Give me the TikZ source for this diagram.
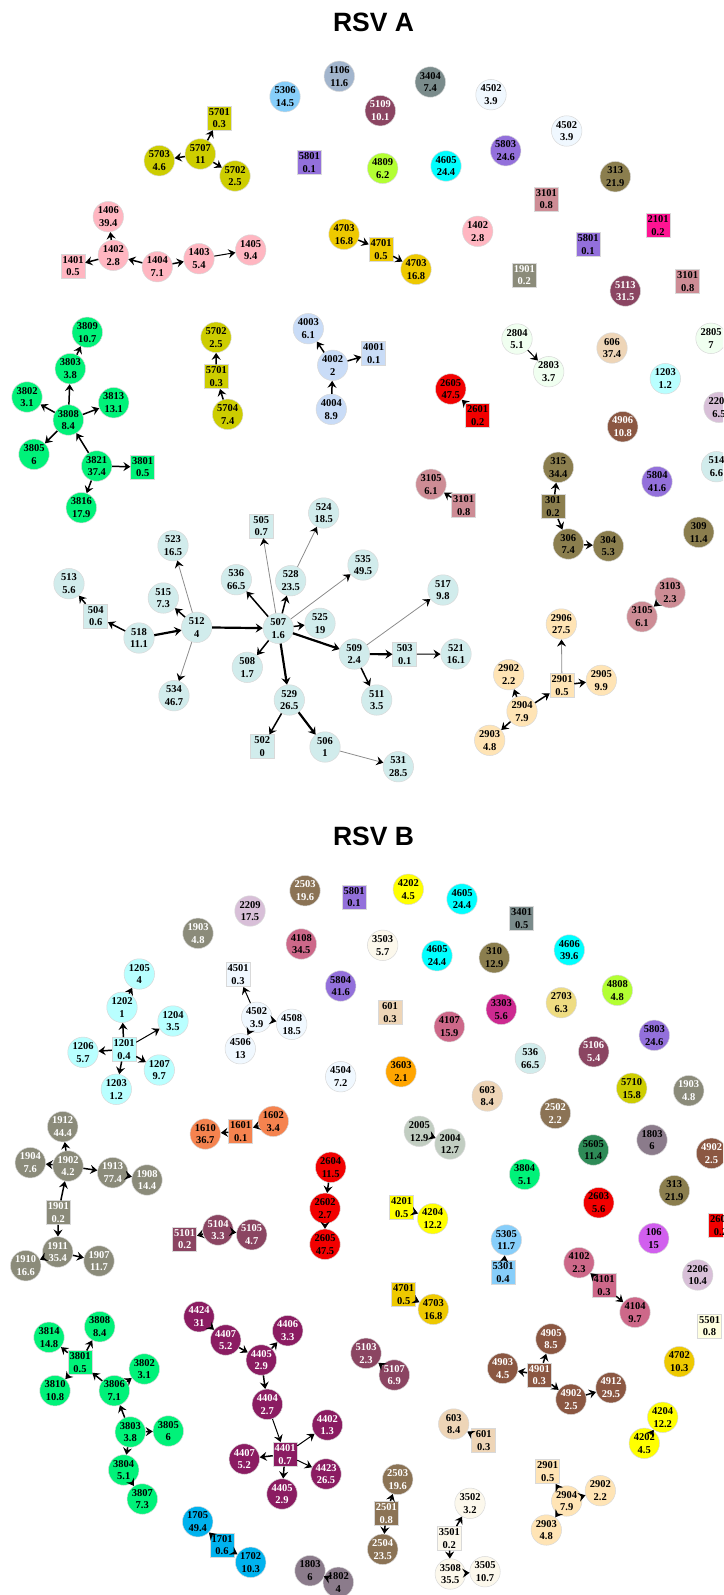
\documentclass[tikz,border=0pt]{standalone}
\usepackage{fontspec}
\setmainfont{Liberation Serif}
\newfontfamily\headfont{Liberation Sans}
\usetikzlibrary{arrows.meta}
% node fill colours
\definecolor{cTeal}{HTML}{D1ECEC}
\definecolor{cOliveY}{HTML}{CDCD00}
\definecolor{cPink}{HTML}{FFB6C1}
\definecolor{cGold}{HTML}{EEC900}
\definecolor{cSpring}{HTML}{00F279}
\definecolor{cLBlue}{HTML}{C9DCF7}
\definecolor{cHoney}{HTML}{F0FFF0}
\definecolor{cBisque}{HTML}{EED5B7}
\definecolor{cPCyan}{HTML}{B9FFFF}
\definecolor{cRed}{HTML}{F20000}
\definecolor{cSienna}{HTML}{8B5742}
\definecolor{cPurple}{HTML}{9370DB}
\definecolor{cOlive}{HTML}{8B7E4E}
\definecolor{cRosy}{HTML}{CD8C95}
\definecolor{cMocc}{HTML}{FFE4B5}
\definecolor{cMaroon}{HTML}{8B4562}
\definecolor{cSlate}{HTML}{7A8B8B}
\definecolor{cSteel}{HTML}{A2B5CD}
\definecolor{cSky}{HTML}{87CEFA}
\definecolor{cAlice}{HTML}{F0F8FF}
\definecolor{cGYel}{HTML}{B3FF33}
\definecolor{cCyan}{HTML}{00FFFF}
\definecolor{cDPink}{HTML}{FF1493}
\definecolor{cGrey}{HTML}{8B8B7A}
\definecolor{cThistle}{HTML}{D8BFD8}
\definecolor{cYellow}{HTML}{FFFF00}
\definecolor{cIvory}{HTML}{FCF8EC}
\definecolor{cBrown}{HTML}{8B7355}
\definecolor{cPVR}{HTML}{CD6889}
\definecolor{cVRed}{HTML}{CD2990}
\definecolor{cKhaki}{HTML}{EEDC82}
\definecolor{cOrange}{HTML}{FFA500}
\definecolor{cCoral}{HTML}{F5834F}
\definecolor{cHoneyG}{HTML}{C1CDC1}
\definecolor{cSea}{HTML}{2E8B57}
\definecolor{cThisD}{HTML}{8B7B8B}
\definecolor{cOrchid}{HTML}{D15FEE}
\definecolor{cLYel}{HTML}{FFFFE0}
\definecolor{cMarD}{HTML}{8B1C62}
\definecolor{cDSky}{HTML}{00B2EE}
\begin{document}
\begin{tikzpicture}[x=1pt,y=-1pt,
  nd/.style={circle,minimum size=30.5pt,inner sep=0pt,draw=black!15,line width=0.5pt,
    align=center,font=\bfseries\fontsize{10.5}{12.6}\selectfont},
  sq/.style={rectangle,minimum size=24pt,inner sep=0pt,draw=black!15,line width=0.5pt,
    align=center,font=\bfseries\fontsize{10.5}{12.6}\selectfont},
  wt/.style={text=white},
  ed/.style={draw=black,line width=1.5pt,-{Stealth[length=7pt,width=9pt,inset=2.5pt,color=black]}},
  edk/.style={ed,line width=2.2pt},
  edm/.style={ed,line width=1pt},
  edt/.style={ed,line width=0.8pt,draw=black!45},
  ttl/.style={font=\headfont\bfseries\fontsize{26.5}{30}\selectfont}
]
\useasboundingbox (0,0) rectangle (723,1595);
\clip (0,0) rectangle (723,1595);

%% ---------------- RSV A ----------------
\node[ttl] (titleA) at (373.5,22) {RSV A};

\node[nd,fill=cSky] (a5306) at (285,96.7) {5306\\14.5};
\node[nd,fill=cSteel] (a1106) at (339.3,76.3) {1106\\11.6};
\node[nd,fill=cSlate] (a3404) at (430.3,82) {3404\\7.4};
\node[nd,fill=cMaroon,wt] (a5109) at (380.3,110.7) {5109\\10.1};
\node[nd,fill=cAlice] (a4502) at (491,94.7) {4502\\3.9};
\node[nd,fill=cAlice] (a4502b) at (566.7,131) {4502\\3.9};
\node[sq,fill=cOliveY] (a5701) at (219.3,118) {5701\\0.3};
\node[nd,fill=cOliveY] (a5707) at (200.3,154) {5707\\11};
\node[nd,fill=cOliveY] (a5703) at (159.3,160.7) {5703\\4.6};
\node[nd,fill=cOliveY] (a5702) at (235,176) {5702\\2.5};
\node[sq,fill=cPurple] (a5801) at (309.3,162.7) {5801\\0.1};
\node[nd,fill=cGYel] (a4809) at (382.7,168.3) {4809\\6.2};
\node[nd,fill=cCyan] (a4605) at (446,166) {4605\\24.4};
\node[nd,fill=cPurple] (a5803) at (505.7,150.7) {5803\\24.6};
\node[nd,fill=cOlive] (a313) at (615.3,176.7) {313\\21.9};
\node[sq,fill=cRosy] (a3101) at (546.3,199) {3101\\0.8};
\node[nd,fill=cPink] (a1406) at (108.3,216.7) {1406\\39.4};
\node[nd,fill=cPink] (a1402) at (113.3,255.3) {1402\\2.8};
\node[sq,fill=cPink] (a1401) at (73,266) {1401\\0.5};
\node[nd,fill=cPink] (a1404) at (157.3,266.7) {1404\\7.1};
\node[nd,fill=cPink] (a1403) at (199,258.7) {1403\\5.4};
\node[nd,fill=cPink] (a1405) at (250.7,250) {1405\\9.4};
\node[nd,fill=cGold] (a4703) at (344,234.3) {4703\\16.8};
\node[sq,fill=cGold] (a4701) at (381,249.3) {4701\\0.5};
\node[nd,fill=cGold] (a4703b) at (416,269.3) {4703\\16.8};
\node[nd,fill=cPink] (a1402b) at (477.7,231.3) {1402\\2.8};
\node[sq,fill=cDPink] (a2101) at (658,225.3) {2101\\0.2};
\node[sq,fill=cPurple] (a5801b) at (588,244.3) {5801\\0.1};
\node[sq,fill=cGrey,wt] (a1901) at (524.3,275) {1901\\0.2};
\node[sq,fill=cRosy] (a3101b) at (687.7,281.7) {3101\\0.8};
\node[nd,fill=cMaroon,wt] (a5113) at (625.3,291) {5113\\31.5};

\node[nd,fill=cSpring] (a3809) at (87.3,332.3) {3809\\10.7};
\node[nd,fill=cSpring] (a3803) at (70.3,368.7) {3803\\3.8};
\node[nd,fill=cSpring] (a3802) at (27,397) {3802\\3.1};
\node[nd,fill=cSpring] (a3813) at (113.7,402.7) {3813\\13.1};
\node[nd,fill=cSpring] (a3808) at (68.3,420) {3808\\8.4};
\node[nd,fill=cSpring] (a3805) at (34,454.3) {3805\\6};
\node[nd,fill=cSpring] (a3821) at (96.7,466) {3821\\37.4};
\node[sq,fill=cSpring] (a3801) at (142.7,467) {3801\\0.5};
\node[nd,fill=cSpring] (a3816) at (81.3,507.7) {3816\\17.9};

\node[nd,fill=cOliveY] (a5702b) at (216,337.3) {5702\\2.5};
\node[sq,fill=cOliveY] (a5701b) at (216.3,376.7) {5701\\0.3};
\node[nd,fill=cOliveY] (a5704) at (227.7,414.3) {5704\\7.4};

\node[nd,fill=cLBlue] (a4003) at (308.3,328.7) {4003\\6.1};
\node[nd,fill=cLBlue] (a4002) at (332.7,365.3) {4002\\2};
\node[nd,fill=cLBlue] (a4004) at (331.3,409.3) {4004\\8.9};
\node[sq,fill=cLBlue] (a4001) at (373.7,353.3) {4001\\0.1};

\node[nd,fill=cHoney] (a2804) at (517,339) {2804\\5.1};
\node[nd,fill=cHoney] (a2803) at (548.7,371.7) {2803\\3.7};
\node[nd,fill=cBisque] (a606) at (612,348) {606\\37.4};
\node[nd,fill=cHoney] (a2805) at (711,338.3) {2805\\7};
\node[nd,fill=cPCyan] (a1203) at (665.3,378.7) {1203\\1.2};
\node[nd,fill=cThistle] (a2206) at (719,407.3) {2206\\6.5};
\node[nd,fill=cRed] (a2605) at (450.7,389) {2605\\47.5};
\node[sq,fill=cRed] (a2601) at (477.7,415.3) {2601\\0.2};
\node[nd,fill=cSienna,wt] (a4906) at (622.7,426.7) {4906\\10.8};
\node[nd,fill=cPurple] (a5804) at (657,481.7) {5804\\41.6};
\node[nd,fill=cTeal] (a514) at (716.5,466.7) {514\\6.6};
\node[nd,fill=cOlive] (a315) at (558.3,467.3) {315\\34.4};
\node[sq,fill=cOlive] (a301) at (553,506.7) {301\\0.2};
\node[nd,fill=cOlive] (a306) at (568.3,544) {306\\7.4};
\node[nd,fill=cOlive] (a304) at (608.3,546) {304\\5.3};
\node[nd,fill=cOlive] (a309) at (698.7,532.3) {309\\11.4};
\node[nd,fill=cRosy] (a3105) at (431,484.3) {3105\\6.1};
\node[sq,fill=cRosy] (a3101c) at (463.7,505.3) {3101\\0.8};
\node[nd,fill=cRosy] (a3103) at (670,592.7) {3103\\2.3};
\node[nd,fill=cRosy] (a3105b) at (642,616.7) {3105\\6.1};

\node[nd,fill=cTeal] (a524) at (323.7,513) {524\\18.5};
\node[sq,fill=cTeal] (a505) at (261.3,526) {505\\0.7};
\node[nd,fill=cTeal] (a523) at (173,545.7) {523\\16.5};
\node[nd,fill=cTeal] (a513) at (69,583.7) {513\\5.6};
\node[sq,fill=cTeal] (a504) at (95.7,616) {504\\0.6};
\node[nd,fill=cTeal] (a518) at (139,638) {518\\11.1};
\node[nd,fill=cTeal] (a515) at (163.3,598) {515\\7.3};
\node[nd,fill=cTeal] (a512) at (196.7,627.3) {512\\4};
\node[nd,fill=cTeal] (a534) at (174,695.7) {534\\46.7};
\node[nd,fill=cTeal] (a536) at (236.3,579.7) {536\\66.5};
\node[nd,fill=cTeal] (a528) at (290.7,580.7) {528\\23.5};
\node[nd,fill=cTeal] (a507) at (278.3,628.3) {507\\1.6};
\node[nd,fill=cTeal] (a525) at (320,623.3) {525\\19};
\node[nd,fill=cTeal] (a508) at (247.3,667.3) {508\\1.7};
\node[nd,fill=cTeal] (a509) at (354.3,654) {509\\2.4};
\node[nd,fill=cTeal] (a529) at (289.3,700) {529\\26.5};
\node[sq,fill=cTeal] (a502) at (262.3,746.7) {502\\0};
\node[nd,fill=cTeal] (a506) at (325,747) {506\\1};
\node[nd,fill=cTeal] (a535) at (363,565) {535\\49.5};
\node[nd,fill=cTeal] (a517) at (443,590) {517\\9.8};
\node[sq,fill=cTeal] (a503) at (404.7,654.3) {503\\0.1};
\node[nd,fill=cTeal] (a521) at (456,654) {521\\16.1};
\node[nd,fill=cTeal] (a511) at (376.7,700) {511\\3.5};
\node[nd,fill=cTeal] (a531) at (398.3,766.7) {531\\28.5};

\node[nd,fill=cMocc] (a2906) at (561.3,624) {2906\\27.5};
\node[nd,fill=cMocc] (a2902) at (508.7,674.7) {2902\\2.2};
\node[sq,fill=cMocc] (a2901) at (562,685.3) {2901\\0.5};
\node[nd,fill=cMocc] (a2905) at (601.3,680.3) {2905\\9.9};
\node[nd,fill=cMocc] (a2904) at (522,711.3) {2904\\7.9};
\node[nd,fill=cMocc] (a2903) at (489.7,740.3) {2903\\4.8};

\foreach \s/\t in {a5707/a5701,a5707/a5703,a5707/a5702,a1402/a1406,a1402/a1401,
  a1404/a1402,a1404/a1403,a4703/a4701,a4701/a4703b,a3803/a3809,a3808/a3803,
  a3808/a3802,a3808/a3813,a3808/a3805,a3821/a3808,a3821/a3801,a3821/a3816,
  a5701b/a5702b,a5704/a5701b,a4002/a4003,a4004/a4002,a4002/a4001,a2601/a2605,
  a3101c/a3105,a301/a315,a301/a306,a306/a304,a3103/a3105b,a504/a513,a518/a504,
  a512/a515,a507/a536,a507/a528,a507/a525,a507/a508,a529/a502,a509/a511,
  a2904/a2902,a2904/a2901,a2901/a2905,a2904/a2903}
  \draw[ed] (\s) -- (\t);
\foreach \s/\t in {a518/a512,a512/a507,a507/a509,a507/a529,a529/a506,a509/a503}
  \draw[edk] (\s) -- (\t);
\foreach \s/\t in {a1403/a1405,a503/a521,a2804/a2803}
  \draw[edm] (\s) -- (\t);
\foreach \s/\t in {a512/a523,a512/a534,a507/a505,a528/a524,a507/a535,a509/a517,
  a506/a531,a2901/a2906}
  \draw[edt] (\s) -- (\t);

%% ---------------- RSV B ----------------
\node[ttl] (titleB) at (373.5,836) {RSV B};

\node[nd,fill=cBrown,wt] (b2503) at (305,890.7) {2503\\19.6};
\node[sq,fill=cPurple] (b5801) at (354,897) {5801\\0.1};
\node[nd,fill=cYellow] (b4202) at (408.3,889.3) {4202\\4.5};
\node[nd,fill=cCyan] (b4605) at (462,899) {4605\\24.4};
\node[sq,fill=cSlate] (b3401) at (521.7,918.3) {3401\\0.5};
\node[nd,fill=cThistle] (b2209) at (250,911) {2209\\17.5};
\node[nd,fill=cGrey,wt] (b1903) at (198,933.3) {1903\\4.8};
\node[nd,fill=cPVR] (b4108) at (301.3,944) {4108\\34.5};
\node[nd,fill=cIvory] (b3503) at (382.7,945.3) {3503\\5.7};
\node[nd,fill=cCyan] (b4605b) at (437,955.7) {4605\\24.4};
\node[nd,fill=cOlive] (b310) at (494.3,957.7) {310\\12.9};
\node[nd,fill=cCyan] (b4606) at (569.3,950) {4606\\39.6};
\node[nd,fill=cPurple] (b5804) at (340.7,986) {5804\\41.6};
\node[nd,fill=cGYel] (b4808) at (617.3,990.3) {4808\\4.8};
\node[sq,fill=cBisque] (b601) at (390,1012.3) {601\\0.3};
\node[nd,fill=cVRed] (b3303) at (501.3,1009.3) {3303\\5.6};
\node[nd,fill=cKhaki] (b2703) at (561.3,1002.7) {2703\\6.3};
\node[nd,fill=cPVR] (b4107) at (449.3,1026.7) {4107\\15.9};
\node[nd,fill=cPurple] (b5803) at (654.3,1035.3) {5803\\24.6};
\node[nd,fill=cMaroon,wt] (b5106) at (593.7,1051.7) {5106\\5.4};
\node[nd,fill=cTeal] (b536) at (530.3,1058.3) {536\\66.5};
\node[nd,fill=cOrange] (b3603) at (401,1071.7) {3603\\2.1};
\node[nd,fill=cAlice] (b4504) at (340.7,1076.7) {4504\\7.2};
\node[nd,fill=cOliveY] (b5710) at (631.7,1088.3) {5710\\15.8};
\node[nd,fill=cGrey,wt] (b1903b) at (688.7,1090.7) {1903\\4.8};
\node[nd,fill=cBisque] (b603) at (487.3,1096) {603\\8.4};
\node[nd,fill=cBrown,wt] (b2502) at (555.3,1113.3) {2502\\2.2};
\node[nd,fill=cThisD] (b1803) at (652,1140) {1803\\6};
\node[nd,fill=cSea] (b5605) at (593.3,1150) {5605\\11.4};
\node[nd,fill=cSienna,wt] (b4902) at (711.5,1153.3) {4902\\2.5};
\node[nd,fill=cSpring] (b3804) at (524.7,1174.3) {3804\\5.1};
\node[nd,fill=cOlive] (b313) at (674.3,1190.7) {313\\21.9};
\node[nd,fill=cRed] (b2603) at (598.7,1202.7) {2603\\5.6};
\node[sq,fill=cRed] (b2601) at (720.5,1225.7) {2601\\0.2};
\node[nd,fill=cOrchid] (b106) at (653.7,1238.3) {106\\15};
\node[nd,fill=cThistle] (b2206) at (697.7,1275) {2206\\10.4};
\node[sq,fill=cLYel] (b5501) at (709.5,1326) {5501\\0.8};
\node[nd,fill=cGold] (b4702) at (679.3,1361.7) {4702\\10.3};

\node[nd,fill=cPCyan] (b1205) at (139.3,974) {1205\\4};
\node[nd,fill=cPCyan] (b1202) at (122,1007.3) {1202\\1};
\node[nd,fill=cPCyan] (b1204) at (173,1021) {1204\\3.5};
\node[sq,fill=cPCyan] (b1201) at (124,1049.3) {1201\\0.4};
\node[nd,fill=cPCyan] (b1206) at (83,1052.3) {1206\\5.7};
\node[nd,fill=cPCyan] (b1207) at (159.3,1070) {1207\\9.7};
\node[nd,fill=cPCyan] (b1203) at (116.3,1089.3) {1203\\1.2};

\node[sq,fill=cAlice] (b4501) at (238,974.7) {4501\\0.3};
\node[nd,fill=cAlice] (b4502) at (256.7,1017.3) {4502\\3.9};
\node[nd,fill=cAlice] (b4508) at (291.7,1024.3) {4508\\18.5};
\node[nd,fill=cAlice] (b4506) at (240.3,1048.7) {4506\\13};

\node[nd,fill=cCoral] (b1602) at (273.3,1121.3) {1602\\3.4};
\node[nd,fill=cCoral] (b1610) at (205.3,1134) {1610\\36.7};
\node[sq,fill=cCoral] (b1601) at (240.7,1131.3) {1601\\0.1};

\node[nd,fill=cHoneyG] (b2005) at (419.3,1131.3) {2005\\12.9};
\node[nd,fill=cHoneyG] (b2004) at (450,1144) {2004\\12.7};

\node[nd,fill=cGrey,wt] (b1912) at (62.7,1126.7) {1912\\44.4};
\node[nd,fill=cGrey,wt] (b1904) at (30.3,1162.7) {1904\\7.6};
\node[nd,fill=cGrey,wt] (b1902) at (68,1166) {1902\\4.2};
\node[nd,fill=cGrey,wt] (b1913) at (112.7,1172.7) {1913\\77.4};
\node[nd,fill=cGrey,wt] (b1908) at (147,1180) {1908\\14.4};
\node[sq,fill=cGrey,wt] (b1901) at (58.3,1212.7) {1901\\0.2};
\node[nd,fill=cGrey,wt] (b1911) at (57.7,1252) {1911\\35.4};
\node[nd,fill=cGrey,wt] (b1910) at (25.7,1265.7) {1910\\16.6};
\node[nd,fill=cGrey,wt] (b1907) at (99,1261) {1907\\11.7};

\node[nd,fill=cRed] (b2604) at (330.7,1167.3) {2604\\11.5};
\node[nd,fill=cRed] (b2602) at (325,1208.3) {2602\\2.7};
\node[nd,fill=cRed] (b2605) at (325,1244.3) {2605\\47.5};

\node[sq,fill=cYellow] (b4201) at (401.7,1207.7) {4201\\0.5};
\node[nd,fill=cYellow] (b4204) at (432.7,1218.7) {4204\\12.2};

\node[sq,fill=cMaroon,wt] (b5101) at (184.7,1239) {5101\\0.2};
\node[nd,fill=cMaroon,wt] (b5104) at (218,1230) {5104\\3.3};
\node[nd,fill=cMaroon,wt] (b5105) at (251.7,1234.7) {5105\\4.7};

\node[nd,fill=cSky] (b5305) at (506.3,1240) {5305\\11.7};
\node[sq,fill=cSky] (b5301) at (503,1272.7) {5301\\0.4};

\node[nd,fill=cPVR] (b4102) at (579,1262.7) {4102\\2.3};
\node[sq,fill=cPVR] (b4101) at (604,1285.7) {4101\\0.3};
\node[nd,fill=cPVR] (b4104) at (635,1312.3) {4104\\9.7};

\node[sq,fill=cGold] (b4701) at (403.7,1294.3) {4701\\0.5};
\node[nd,fill=cGold] (b4703) at (433.3,1309.3) {4703\\16.8};

\node[nd,fill=cSpring] (b3808) at (99.7,1326.7) {3808\\8.4};
\node[nd,fill=cSpring] (b3814) at (49,1337.3) {3814\\14.8};
\node[sq,fill=cSpring] (b3801) at (80,1362.7) {3801\\0.5};
\node[nd,fill=cSpring] (b3802) at (144.3,1369) {3802\\3.1};
\node[nd,fill=cSpring] (b3810) at (55,1390.7) {3810\\10.8};
\node[nd,fill=cSpring] (b3806) at (114.3,1390.7) {3806\\7.1};
\node[nd,fill=cSpring] (b3805) at (168.3,1431) {3805\\6};
\node[nd,fill=cSpring] (b3803) at (130.3,1432) {3803\\3.8};
\node[nd,fill=cSpring] (b3804b) at (123.7,1470) {3804\\5.1};
\node[nd,fill=cSpring] (b3807) at (142.3,1499) {3807\\7.3};

\node[nd,fill=cMarD,wt] (b4424) at (199,1316.7) {4424\\31};
\node[nd,fill=cMarD,wt] (b4406) at (287.7,1330.7) {4406\\3.3};
\node[nd,fill=cMarD,wt] (b4407) at (225.7,1340) {4407\\5.2};
\node[nd,fill=cMarD,wt] (b4405) at (261.3,1360) {4405\\2.9};
\node[nd,fill=cMarD,wt] (b4404) at (267.3,1404.3) {4404\\2.7};
\node[nd,fill=cMarD,wt] (b4402) at (327.3,1425) {4402\\1.3};
\node[sq,fill=cMarD,wt] (b4401) at (285,1454.3) {4401\\0.7};
\node[nd,fill=cMarD,wt] (b4407b) at (244.3,1459) {4407\\5.2};
\node[nd,fill=cMarD,wt] (b4423) at (326,1474) {4423\\26.5};
\node[nd,fill=cMarD,wt] (b4405b) at (282,1494) {4405\\2.9};

\node[nd,fill=cDSky] (b1705) at (197.7,1521.7) {1705\\49.4};
\node[sq,fill=cDSky] (b1701) at (222,1545) {1701\\0.6};
\node[nd,fill=cDSky] (b1702) at (250.7,1562.3) {1702\\10.3};
\node[nd,fill=cThisD] (b1803b) at (310,1570.7) {1803\\6};
\node[nd,fill=cThisD] (b1802) at (338.3,1582.3) {1802\\4};

\node[nd,fill=cMaroon,wt] (b5103) at (366,1353.3) {5103\\2.3};
\node[nd,fill=cMaroon,wt] (b5107) at (394.3,1375) {5107\\6.9};

\node[nd,fill=cSienna,wt] (b4905) at (551,1339) {4905\\8.5};
\node[nd,fill=cSienna,wt] (b4903) at (502.7,1368.3) {4903\\4.5};
\node[sq,fill=cSienna,wt] (b4901) at (539.3,1375) {4901\\0.3};
\node[nd,fill=cSienna,wt] (b4902b) at (571,1399.3) {4902\\2.5};
\node[nd,fill=cSienna,wt] (b4912) at (611,1387.7) {4912\\29.5};

\node[nd,fill=cYellow] (b4204b) at (662.7,1417.3) {4204\\12.2};
\node[nd,fill=cYellow] (b4202b) at (644.3,1443.3) {4202\\4.5};

\node[nd,fill=cBisque] (b603b) at (453.7,1424) {603\\8.4};
\node[sq,fill=cBisque] (b601b) at (483.7,1440.7) {601\\0.3};

\node[nd,fill=cBrown,wt] (b2503b) at (397.7,1479.3) {2503\\19.6};
\node[sq,fill=cBrown,wt] (b2501) at (386.3,1513.3) {2501\\0.8};
\node[nd,fill=cBrown,wt] (b2504) at (382.7,1549.3) {2504\\23.5};

\node[nd,fill=cIvory] (b3502) at (470,1503.3) {3502\\3.2};
\node[sq,fill=cIvory] (b3501) at (449.3,1538.3) {3501\\0.2};
\node[nd,fill=cIvory] (b3508) at (450.3,1574) {3508\\35.5};
\node[nd,fill=cIvory] (b3505) at (485,1571.7) {3505\\10.7};

\node[sq,fill=cMocc] (b2901) at (547.7,1471.7) {2901\\0.5};
\node[nd,fill=cMocc] (b2902) at (600.3,1490.7) {2902\\2.2};
\node[nd,fill=cMocc] (b2904) at (566.7,1501) {2904\\7.9};
\node[nd,fill=cMocc] (b2903) at (546.3,1530) {2903\\4.8};

\foreach \s/\t in {b1202/b1205,b1201/b1202,b1201/b1206,b1201/b1207,b1201/b1203,
  b4502/b4508,b4502/b4506,b1902/b1912,b1902/b1904,b1902/b1913,b1913/b1908,
  b1901/b1902,b1901/b1911,b1911/b1910,b1911/b1907,b1602/b1601,b1601/b1610,
  b2604/b2602,b2602/b2605,b5104/b5101,b5104/b5105,b2005/b2004,b4201/b4204,
  b5301/b5305,b4101/b4102,b4101/b4104,b4701/b4703,b3801/b3808,b3801/b3814,
  b3801/b3810,b3806/b3801,b3806/b3802,b3803/b3806,b3803/b3805,b3803/b3804b,
  b3804b/b3807,b4424/b4407,b4407/b4405,b4405/b4406,b4405/b4404,b4401/b4407b,
  b4401/b4405b,b1701/b1705,b1701/b1702,b4901/b4905,b4901/b4903,b4901/b4902b,
  b4902b/b4912,b5107/b5103,b4202b/b4204b,b601b/b603b,b2501/b2503b,b2501/b2504,
  b3501/b3502,b3501/b3508,b3508/b3505,b2904/b2901,b2904/b2902,b2904/b2903}
  \draw[ed] (\s) -- (\t);
\foreach \s/\t in {b1201/b1204,b4502/b4501,b4404/b4401,b4401/b4402,b4401/b4423,
  b1803b/b1802}
  \draw[edm] (\s) -- (\t);
\end{tikzpicture}
\end{document}
